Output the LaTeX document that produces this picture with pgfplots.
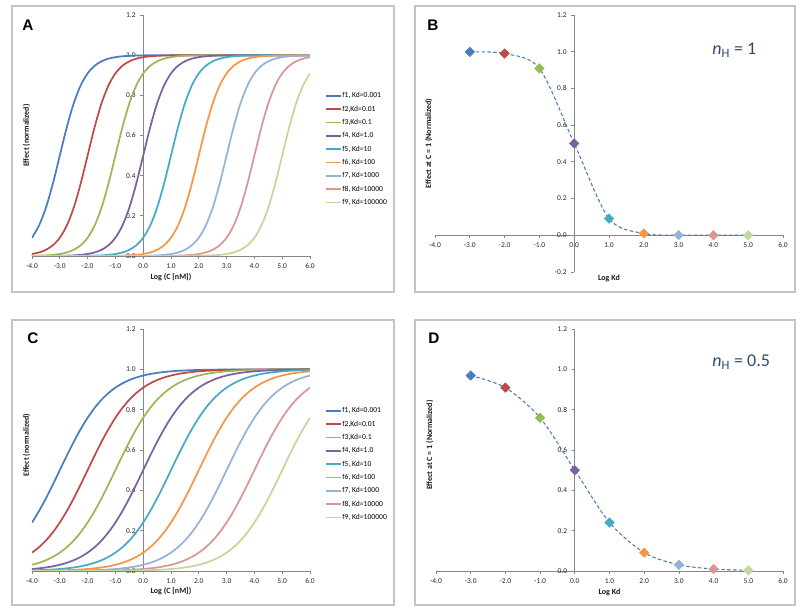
\documentclass[border=0pt]{standalone}
\usepackage{pgfplots}
\pgfplotsset{compat=1.18}
\usepackage{pgfplotstable}
\usepackage{fontspec}
\setmainfont{Carlito}
\newfontfamily\arialf{Liberation Sans}
\definecolor{c1}{HTML}{4A7EBB}
\definecolor{c2}{HTML}{BE4B48}
\definecolor{c3}{HTML}{98B954}
\definecolor{c4}{HTML}{7D60A0}
\definecolor{c5}{HTML}{46AAC5}
\definecolor{c6}{HTML}{F79646}
\definecolor{c7}{HTML}{95B3D7}
\definecolor{c8}{HTML}{D99694}
\definecolor{c9}{HTML}{C3D69B}
\definecolor{axgray}{HTML}{868686}
\definecolor{framegray}{HTML}{C4C4C4}
\definecolor{nhcol}{HTML}{2E4A72}

\pgfplotstableread{
x f1 f2 f3 f4 f5 f6 f7 f8 f9
-4.00 0.0909 0.0099 0.0010 0.0001 0 0 0 0 0
-3.75 0.1510 0.0175 0.0018 0.0002 0 0 0 0 0
-3.50 0.2403 0.0307 0.0032 0.0003 0 0 0 0 0
-3.25 0.3599 0.0532 0.0056 0.0006 0.0001 0 0 0 0
-3.00 0.5000 0.0909 0.0099 0.0010 0.0001 0 0 0 0
-2.75 0.6401 0.1510 0.0175 0.0018 0.0002 0 0 0 0
-2.50 0.7597 0.2403 0.0307 0.0032 0.0003 0 0 0 0
-2.25 0.8490 0.3599 0.0532 0.0056 0.0006 0.0001 0 0 0
-2.00 0.9091 0.5000 0.0909 0.0099 0.0010 0.0001 0 0 0
-1.75 0.9468 0.6401 0.1510 0.0175 0.0018 0.0002 0 0 0
-1.50 0.9693 0.7597 0.2403 0.0307 0.0032 0.0003 0 0 0
-1.25 0.9825 0.8490 0.3599 0.0532 0.0056 0.0006 0.0001 0 0
-1.00 0.9901 0.9091 0.5000 0.0909 0.0099 0.0010 0.0001 0 0
-0.75 0.9944 0.9468 0.6401 0.1510 0.0175 0.0018 0.0002 0 0
-0.50 0.9968 0.9693 0.7597 0.2403 0.0307 0.0032 0.0003 0 0
-0.25 0.9982 0.9825 0.8490 0.3599 0.0532 0.0056 0.0006 0.0001 0
0.00 0.9990 0.9901 0.9091 0.5000 0.0909 0.0099 0.0010 0.0001 0
0.25 0.9994 0.9944 0.9468 0.6401 0.1510 0.0175 0.0018 0.0002 0
0.50 0.9997 0.9968 0.9693 0.7597 0.2403 0.0307 0.0032 0.0003 0
0.75 0.9998 0.9982 0.9825 0.8490 0.3599 0.0532 0.0056 0.0006 0.0001
1.00 0.9999 0.9990 0.9901 0.9091 0.5000 0.0909 0.0099 0.0010 0.0001
1.25 0.9999 0.9994 0.9944 0.9468 0.6401 0.1510 0.0175 0.0018 0.0002
1.50 1 0.9997 0.9968 0.9693 0.7597 0.2403 0.0307 0.0032 0.0003
1.75 1 0.9998 0.9982 0.9825 0.8490 0.3599 0.0532 0.0056 0.0006
2.00 1 0.9999 0.9990 0.9901 0.9091 0.5000 0.0909 0.0099 0.0010
2.25 1 0.9999 0.9994 0.9944 0.9468 0.6401 0.1510 0.0175 0.0018
2.50 1 1 0.9997 0.9968 0.9693 0.7597 0.2403 0.0307 0.0032
2.75 1 1 0.9998 0.9982 0.9825 0.8490 0.3599 0.0532 0.0056
3.00 1 1 0.9999 0.9990 0.9901 0.9091 0.5000 0.0909 0.0099
3.25 1 1 0.9999 0.9994 0.9944 0.9468 0.6401 0.1510 0.0175
3.50 1 1 1 0.9997 0.9968 0.9693 0.7597 0.2403 0.0307
3.75 1 1 1 0.9998 0.9982 0.9825 0.8490 0.3599 0.0532
4.00 1 1 1 0.9999 0.9990 0.9901 0.9091 0.5000 0.0909
4.25 1 1 1 0.9999 0.9994 0.9944 0.9468 0.6401 0.1510
4.50 1 1 1 1 0.9997 0.9968 0.9693 0.7597 0.2403
4.75 1 1 1 1 0.9998 0.9982 0.9825 0.8490 0.3599
5.00 1 1 1 1 0.9999 0.9990 0.9901 0.9091 0.5000
5.25 1 1 1 1 0.9999 0.9994 0.9944 0.9468 0.6401
5.50 1 1 1 1 1 0.9997 0.9968 0.9693 0.7597
5.75 1 1 1 1 1 0.9998 0.9982 0.9825 0.8490
6.00 1 1 1 1 1 0.9999 0.9990 0.9901 0.9091
}\tabA

\pgfplotstableread{
x f1 f2 f3 f4 f5 f6 f7 f8 f9
-4.00 0.2403 0.0909 0.0307 0.0099 0.0032 0.0010 0.0003 0.0001 0
-3.75 0.2966 0.1177 0.0405 0.0132 0.0042 0.0013 0.0004 0.0001 0
-3.50 0.3599 0.1510 0.0532 0.0175 0.0056 0.0018 0.0006 0.0002 0
-3.25 0.4285 0.1917 0.0698 0.0232 0.0074 0.0024 0.0008 0.0002 0.0001
-3.00 0.5000 0.2403 0.0909 0.0307 0.0099 0.0032 0.0010 0.0003 0.0001
-2.75 0.5715 0.2966 0.1177 0.0405 0.0132 0.0042 0.0013 0.0004 0.0001
-2.50 0.6401 0.3599 0.1510 0.0532 0.0175 0.0056 0.0018 0.0006 0.0002
-2.25 0.7034 0.4285 0.1917 0.0698 0.0232 0.0074 0.0024 0.0008 0.0002
-2.00 0.7597 0.5000 0.2403 0.0909 0.0307 0.0099 0.0032 0.0010 0.0003
-1.75 0.8083 0.5715 0.2966 0.1177 0.0405 0.0132 0.0042 0.0013 0.0004
-1.50 0.8490 0.6401 0.3599 0.1510 0.0532 0.0175 0.0056 0.0018 0.0006
-1.25 0.8823 0.7034 0.4285 0.1917 0.0698 0.0232 0.0074 0.0024 0.0008
-1.00 0.9091 0.7597 0.5000 0.2403 0.0909 0.0307 0.0099 0.0032 0.0010
-0.75 0.9302 0.8083 0.5715 0.2966 0.1177 0.0405 0.0132 0.0042 0.0013
-0.50 0.9468 0.8490 0.6401 0.3599 0.1510 0.0532 0.0175 0.0056 0.0018
-0.25 0.9595 0.8823 0.7034 0.4285 0.1917 0.0698 0.0232 0.0074 0.0024
0.00 0.9693 0.9091 0.7597 0.5000 0.2403 0.0909 0.0307 0.0099 0.0032
0.25 0.9768 0.9302 0.8083 0.5715 0.2966 0.1177 0.0405 0.0132 0.0042
0.50 0.9825 0.9468 0.8490 0.6401 0.3599 0.1510 0.0532 0.0175 0.0056
0.75 0.9868 0.9595 0.8823 0.7034 0.4285 0.1917 0.0698 0.0232 0.0074
1.00 0.9901 0.9693 0.9091 0.7597 0.5000 0.2403 0.0909 0.0307 0.0099
1.25 0.9926 0.9768 0.9302 0.8083 0.5715 0.2966 0.1177 0.0405 0.0132
1.50 0.9944 0.9825 0.9468 0.8490 0.6401 0.3599 0.1510 0.0532 0.0175
1.75 0.9958 0.9868 0.9595 0.8823 0.7034 0.4285 0.1917 0.0698 0.0232
2.00 0.9968 0.9901 0.9693 0.9091 0.7597 0.5000 0.2403 0.0909 0.0307
2.25 0.9976 0.9926 0.9768 0.9302 0.8083 0.5715 0.2966 0.1177 0.0405
2.50 0.9982 0.9944 0.9825 0.9468 0.8490 0.6401 0.3599 0.1510 0.0532
2.75 0.9987 0.9958 0.9868 0.9595 0.8823 0.7034 0.4285 0.1917 0.0698
3.00 0.9990 0.9968 0.9901 0.9693 0.9091 0.7597 0.5000 0.2403 0.0909
3.25 0.9992 0.9976 0.9926 0.9768 0.9302 0.8083 0.5715 0.2966 0.1177
3.50 0.9994 0.9982 0.9944 0.9825 0.9468 0.8490 0.6401 0.3599 0.1510
3.75 0.9996 0.9987 0.9958 0.9868 0.9595 0.8823 0.7034 0.4285 0.1917
4.00 0.9997 0.9990 0.9968 0.9901 0.9693 0.9091 0.7597 0.5000 0.2403
4.25 0.9998 0.9992 0.9976 0.9926 0.9768 0.9302 0.8083 0.5715 0.2966
4.50 0.9998 0.9994 0.9982 0.9944 0.9825 0.9468 0.8490 0.6401 0.3599
4.75 0.9999 0.9996 0.9987 0.9958 0.9868 0.9595 0.8823 0.7034 0.4285
5.00 0.9999 0.9997 0.9990 0.9968 0.9901 0.9693 0.9091 0.7597 0.5000
5.25 0.9999 0.9998 0.9992 0.9976 0.9926 0.9768 0.9302 0.8083 0.5715
5.50 1 0.9998 0.9994 0.9982 0.9944 0.9825 0.9468 0.8490 0.6401
5.75 1 0.9999 0.9996 0.9987 0.9958 0.9868 0.9595 0.8823 0.7034
6.00 1 0.9999 0.9997 0.9990 0.9968 0.9901 0.9693 0.9091 0.7597
}\tabC

\pgfplotsset{
  excel/.style={
    scale only axis,
    axis lines=middle,
    axis line style={-, draw=axgray, line width=0.6pt},
    xmin=-4, xmax=6,
    xtick={-4,-3,...,6},
    tick align=outside,
    major tick length=2.2pt,
    every tick/.style={axgray, line width=0.6pt},
    tick label style={font=\fontsize{5.6}{6}\selectfont, text=black!85},
    /pgf/number format/assume math mode=true,
    xticklabel style={/pgf/number format/fixed, /pgf/number format/fixed zerofill, /pgf/number format/precision=1},
    yticklabel style={/pgf/number format/fixed, /pgf/number format/fixed zerofill, /pgf/number format/precision=1},
    hide obscured x ticks=false,
    hide obscured y ticks=false,
    label style={font=\bfseries\fontsize{6}{7}\selectfont, text=black!90},
  },
  curve/.style={line width=1.3pt, smooth, no marks},
  leg/.style={
    legend cell align=left,
    legend style={anchor=north west, draw=none, fill=none, inner sep=0pt,
      font=\fontsize{5.7}{6}\selectfont, row sep=4.2pt,
      nodes={inner sep=0.5pt, text height=4pt, text depth=0.8pt}},
    legend image code/.code={\draw[##1, line width=1.3pt] (0pt,0pt) -- (11pt,0pt);},
  },
  dia/.style={only marks, mark=square*, mark size=2.5pt, mark options={rotate=45, fill=#1, draw=#1}},
}

\begin{document}
\begin{tikzpicture}
\path[use as bounding box] (0,0) rectangle (600pt,459.75pt);
% frames
\draw[framegray, line width=1pt] (9pt,240.75pt) rectangle (295.5pt,455.25pt);
\draw[framegray, line width=1pt] (311.25pt,240.75pt) rectangle (596.25pt,455.25pt);
\draw[framegray, line width=1pt] (9pt,6pt) rectangle (295.5pt,219.75pt);
\draw[framegray, line width=1pt] (311.25pt,6pt) rectangle (596.25pt,219.75pt);

% ---------------- A ----------------
\begin{axis}[excel, leg, at={(24pt,267.75pt)}, anchor=south west,
  width=208.5pt, height=180.75pt,
  ymin=0, ymax=1.2, ytick={0,0.2,...,1.2},
  xlabel={Log (C [nM])}, ylabel={Effect (normalized)},
  xlabel style={at={(axis description cs:0.5,-0.087)}, anchor=center},
  ylabel style={at={(axis description cs:-0.02,0.5)}, anchor=center, rotate=90},
  legend style={at={(axis description cs:1.054,0.682)}},
]
\addplot[curve, c1] table[x=x, y=f1] {\tabA}; \addlegendentry{f1, Kd=0.001}
\addplot[curve, c2] table[x=x, y=f2] {\tabA}; \addlegendentry{f2,Kd=0.01}
\addplot[curve, c3] table[x=x, y=f3] {\tabA}; \addlegendentry{f3,Kd=0.1}
\addplot[curve, c4] table[x=x, y=f4] {\tabA}; \addlegendentry{f4, Kd=1.0}
\addplot[curve, c5] table[x=x, y=f5] {\tabA}; \addlegendentry{f5, Kd=10}
\addplot[curve, c6] table[x=x, y=f6] {\tabA}; \addlegendentry{f6, Kd=100}
\addplot[curve, c7] table[x=x, y=f7] {\tabA}; \addlegendentry{f7, Kd=1000}
\addplot[curve, c8] table[x=x, y=f8] {\tabA}; \addlegendentry{f8, Kd=10000}
\addplot[curve, c9] table[x=x, y=f9] {\tabA}; \addlegendentry{f9, Kd=100000}
\end{axis}

% ---------------- B ----------------
\begin{axis}[excel, at={(326.25pt,255.75pt)}, anchor=south west,
  width=261pt, height=192.75pt,
  ymin=-0.2, ymax=1.2, ytick={-0.2,0,0.2,...,1.2},
  xlabel={Log Kd}, ylabel={Effect at C = 1 (Normalized)},
  xlabel style={at={(axis description cs:0.5,-0.025)}, anchor=center},
  ylabel style={at={(axis description cs:-0.018,0.5)}, anchor=center, rotate=90},
]
\addplot[c1, line width=0.8pt, dash pattern=on 2.6pt off 1.8pt, smooth, no marks]
  coordinates {(-3,0.999) (-2,0.990) (-1,0.909) (0,0.5) (1,0.0909) (2,0.0099) (3,0.001) (4,0.0001) (5,0.00001)};
\addplot[dia=c1] coordinates {(-3,0.999)};
\addplot[dia=c2] coordinates {(-2,0.990)};
\addplot[dia=c3] coordinates {(-1,0.909)};
\addplot[dia=c4] coordinates {(0,0.5)};
\addplot[dia=c5] coordinates {(1,0.0909)};
\addplot[dia=c6] coordinates {(2,0.0099)};
\addplot[dia=c7] coordinates {(3,0.001)};
\addplot[dia=c8] coordinates {(4,0.0001)};
\addplot[dia=c9] coordinates {(5,0.00001)};
\end{axis}

% ---------------- C ----------------
\begin{axis}[excel, leg, at={(24pt,31.5pt)}, anchor=south west,
  width=208.5pt, height=181.5pt,
  ymin=0, ymax=1.2, ytick={0,0.2,...,1.2},
  xlabel={Log (C [nM])}, ylabel={Effect (normalized)},
  xlabel style={at={(axis description cs:0.5,-0.082)}, anchor=center},
  ylabel style={at={(axis description cs:-0.02,0.52)}, anchor=center, rotate=90},
  legend style={at={(axis description cs:1.054,0.679)}},
]
\addplot[curve, c1] table[x=x, y=f1] {\tabC}; \addlegendentry{f1, Kd=0.001}
\addplot[curve, c2] table[x=x, y=f2] {\tabC}; \addlegendentry{f2,Kd=0.01}
\addplot[curve, c3] table[x=x, y=f3] {\tabC}; \addlegendentry{f3,Kd=0.1}
\addplot[curve, c4] table[x=x, y=f4] {\tabC}; \addlegendentry{f4, Kd=1.0}
\addplot[curve, c5] table[x=x, y=f5] {\tabC}; \addlegendentry{f5, Kd=10}
\addplot[curve, c6] table[x=x, y=f6] {\tabC}; \addlegendentry{f6, Kd=100}
\addplot[curve, c7] table[x=x, y=f7] {\tabC}; \addlegendentry{f7, Kd=1000}
\addplot[curve, c8] table[x=x, y=f8] {\tabC}; \addlegendentry{f8, Kd=10000}
\addplot[curve, c9] table[x=x, y=f9] {\tabC}; \addlegendentry{f9, Kd=100000}
\end{axis}

% ---------------- D ----------------
\begin{axis}[excel, at={(327pt,31.5pt)}, anchor=south west,
  width=260.25pt, height=181.5pt,
  ymin=0, ymax=1.2, ytick={0,0.2,...,1.2},
  xlabel={Log Kd}, ylabel={Effect at C = 1 (Normalized)},
  xlabel style={at={(axis description cs:0.5,-0.087)}, anchor=center},
  ylabel style={at={(axis description cs:-0.018,0.52)}, anchor=center, rotate=90},
]
\addplot[c1, line width=0.8pt, dash pattern=on 2.6pt off 1.8pt, smooth, no marks]
  coordinates {(-3,0.9693) (-2,0.9091) (-1,0.7597) (0,0.5) (1,0.2403) (2,0.0909) (3,0.0307) (4,0.0099) (5,0.0032)};
\addplot[dia=c1] coordinates {(-3,0.9693)};
\addplot[dia=c2] coordinates {(-2,0.9091)};
\addplot[dia=c3] coordinates {(-1,0.7597)};
\addplot[dia=c4] coordinates {(0,0.5)};
\addplot[dia=c5] coordinates {(1,0.2403)};
\addplot[dia=c6] coordinates {(2,0.0909)};
\addplot[dia=c7] coordinates {(3,0.0307)};
\addplot[dia=c8] coordinates {(4,0.0099)};
\addplot[dia=c9] coordinates {(5,0.0032)};
\end{axis}

% panel letters and annotations
\node[font=\arialf\bfseries\fontsize{11.5}{12}\selectfont] at (21pt,441pt) {A};
\node[font=\arialf\bfseries\fontsize{11.5}{12}\selectfont] at (324.75pt,441pt) {B};
\node[font=\arialf\bfseries\fontsize{11.5}{12}\selectfont] at (24.75pt,206.25pt) {C};
\node[font=\arialf\bfseries\fontsize{11.5}{12}\selectfont] at (325.5pt,206.25pt) {D};
\node[anchor=west, inner sep=0pt, font=\fontsize{13.5}{15}\selectfont, text=nhcol] at (534pt,422.25pt) {\textit{n}\textsubscript{H} = 1};
\node[anchor=west, inner sep=0pt, font=\fontsize{13.5}{15}\selectfont, text=nhcol] at (534pt,188.25pt) {\textit{n}\textsubscript{H} = 0.5};
\end{tikzpicture}
\end{document}
